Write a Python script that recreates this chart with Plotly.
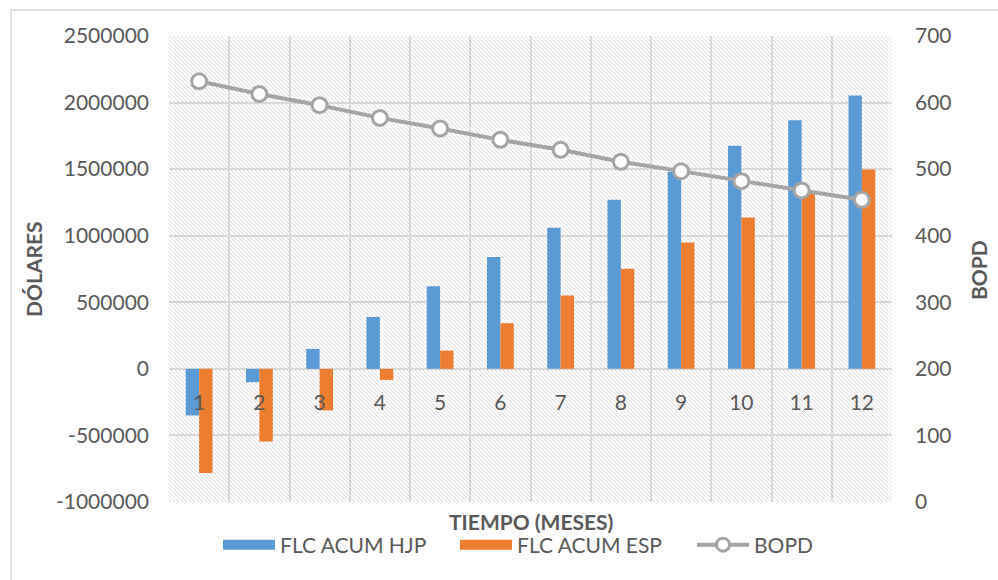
import base64
import plotly.graph_objects as go

# ---- data ----
meses = [1, 2, 3, 4, 5, 6, 7, 8, 9, 10, 11, 12]
flc_acum_hjp = [-350000, -100000, 150000, 390000, 620000, 840000,
                1060000, 1270000, 1480000, 1675000, 1868000, 2053000]
flc_acum_esp = [-783000, -546000, -312000, -83000, 137000, 343000,
                551000, 751000, 949000, 1137000, 1315000, 1497000]
bopd = [632, 613, 596, 577, 561, 544, 529, 511, 497, 482, 468, 454]

y_left_ticks = [-1000000, -500000, 0, 500000, 1000000, 1500000, 2000000, 2500000]
y_left_labels = ["-1000000", "-500000", "0", "500000", "1000000", "1500000", "2000000", "2500000"]
y_right_ticks = [0, 100, 200, 300, 400, 500, 600, 700]
x_labels = [str(m) for m in meses]

# ---- style ----
W, H = 998, 580
L, R, T, B = 169, 106, 36, 78
PW, PH = W - L - R, H - T - B
FONT = "Lato"
TXT = "#595959"
GRID = "#d9d9d9"
BLUE = "#5B9BD5"
ORANGE = "#ED7D31"
GRAY = "#A5A5A5"
FS = 21


def px_x(p):
    return (p - L) / PW


def px_y(p):
    return (H - B - p) / PH


svg = (f'<svg xmlns="http://www.w3.org/2000/svg" width="{PW}" height="{PH}">'
       '<defs><pattern id="h" width="4" height="4" patternUnits="userSpaceOnUse">'
       '<path d="M-1,-1 L5,5 M-1,3 L1,5 M3,-1 L5,1" stroke="#dbdbdb" stroke-width="1"/>'
       '</pattern></defs>'
       f'<rect width="{PW}" height="{PH}" fill="white"/>'
       f'<rect width="{PW}" height="{PH}" fill="url(#h)"/></svg>')
svg_uri = "data:image/svg+xml;base64," + base64.b64encode(svg.encode()).decode()

fig = go.Figure()
fig.add_trace(go.Bar(x=meses, y=flc_acum_hjp, name="FLC ACUM HJP",
                     marker=dict(color=BLUE, line=dict(width=0)), showlegend=False))
fig.add_trace(go.Bar(x=meses, y=flc_acum_esp, name="FLC ACUM ESP",
                     marker=dict(color=ORANGE, line=dict(width=0)), showlegend=False))
fig.add_trace(go.Scatter(x=meses, y=bopd, name="BOPD", yaxis="y2", mode="lines+markers",
                         line=dict(color=GRAY, width=4),
                         marker=dict(size=15, color="white", line=dict(color=GRAY, width=3)),
                         showlegend=False))
# legend entries
fig.add_trace(go.Scatter(x=[None], y=[None], name="FLC ACUM HJP", mode="lines",
                         line=dict(color=BLUE, width=14)))
fig.add_trace(go.Scatter(x=[None], y=[None], name="FLC ACUM ESP", mode="lines",
                         line=dict(color=ORANGE, width=14)))
fig.add_trace(go.Scatter(x=[None], y=[None], name="BOPD", mode="lines+markers",
                         line=dict(color=GRAY, width=4),
                         marker=dict(size=13, color="white", line=dict(color=GRAY, width=3))))

fig.update_layout(
    width=W, height=H, autosize=False,
    margin=dict(l=L, r=R, t=T, b=B, pad=0),
    paper_bgcolor="white", plot_bgcolor="rgba(0,0,0,0)",
    font=dict(family=FONT, size=FS, color=TXT),
    barmode="group", bargap=0.555, bargroupgap=0,
    xaxis=dict(range=[0.5, 12.5], tickmode="array", tickvals=meses, ticktext=x_labels,
               showgrid=False, zeroline=False, showline=False, ticks="",
               anchor="free", position=1 / 3.5, ticklabelstandoff=19,
               minor=dict(tickmode="array", tickvals=[m - 0.5 for m in meses] + [12.5],
                          showgrid=True, gridcolor=GRID, gridwidth=2, ticks="")),
    yaxis=dict(range=[-1000000, 2500000], tickmode="array", tickvals=y_left_ticks,
               ticktext=y_left_labels, showgrid=True, gridcolor=GRID, gridwidth=2,
               zeroline=True, zerolinecolor=GRID, zerolinewidth=2, showline=False,
               ticks="", ticklabelstandoff=19),
    yaxis2=dict(range=[0, 700], tickmode="array", tickvals=y_right_ticks, overlaying="y",
                side="right", showgrid=False, zeroline=False, showline=False, ticks="",
                ticklabelstandoff=22),
    legend=dict(orientation="h", x=px_x(218), xanchor="left", y=px_y(545),
                yanchor="middle", font=dict(size=FS, color=TXT), itemwidth=52,
                entrywidth=170, entrywidthmode="pixels",
                bgcolor="rgba(0,0,0,0)", traceorder="normal"),
    images=[dict(source=svg_uri, xref="paper", yref="paper", x=0, y=1, sizex=1, sizey=1,
                 xanchor="left", yanchor="top", sizing="stretch", layer="below")],
    annotations=[
        dict(text="<b>DÓLARES</b>", x=px_x(33), y=0.5, xref="paper", yref="paper",
             textangle=-90, showarrow=False, font=dict(size=FS, color=TXT),
             xanchor="center", yanchor="middle"),
        dict(text="<b>BOPD</b>", x=px_x(978), y=px_y(270), xref="paper", yref="paper",
             textangle=-90, showarrow=False, font=dict(size=FS, color=TXT),
             xanchor="center", yanchor="middle"),
        dict(text="<b>TIEMPO (MESES)</b>", x=0.5, y=px_y(521), xref="paper", yref="paper",
             showarrow=False, font=dict(size=FS, color=TXT),
             xanchor="center", yanchor="middle"),
    ],
    shapes=[
        dict(type="rect", xref="paper", yref="paper", x0=px_x(11), x1=px_x(1010),
             y0=px_y(10), y1=px_y(600), line=dict(color=GRID, width=1.5),
             fillcolor="rgba(0,0,0,0)", layer="below"),
    ],
)

fig.write_html("out.html", config={"displayModeBar": False},
               post_script="document.body.style.margin='0';document.body.style.overflow='hidden';")
